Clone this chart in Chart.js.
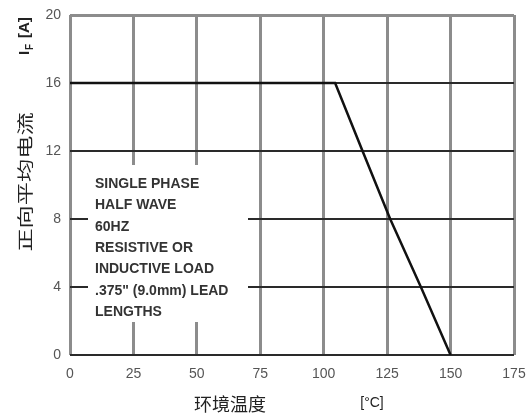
<!DOCTYPE html>
<html>
<head>
<meta charset="utf-8">
<script src="https://cdn.jsdelivr.net/npm/chart.js@4"></script>
<style>
html,body{margin:0;padding:0;background:#fff;}
canvas{display:block;}
</style>
</head>
<body>
<canvas id="c" width="531" height="416"></canvas>
<script>
// Data
const tempC    = [0, 104.5, 115.3, 126.2, 138.3, 150];
const currentA = [16, 16, 12, 8, 4, 0];
const xTickValues = [0, 25, 50, 75, 100, 125, 150, 175];
const yTickValues = [0, 4, 8, 12, 16, 20];
const noteLines = [
  'SINGLE PHASE',
  'HALF WAVE',
  '60HZ',
  'RESISTIVE OR',
  'INDUCTIVE LOAD',
  '.375" (9.0mm) LEAD',
  'LENGTHS'
];
const yTitle = '正向平均电流';
const xTitle = '环境温度';
const xUnit = '[°C]';

const points = tempC.map((t, i) => ({x: t, y: currentA[i]}));

const overlay = {
  id: 'overlay',
  beforeDatasetsDraw(chart) {
    const ctx = chart.ctx, a = chart.chartArea;
    ctx.save();
    // white note box covering grid
    ctx.fillStyle = '#fff';
    ctx.fillRect(a.left + 18, a.top + 150, 160, 157);
    ctx.fillStyle = '#333';
    ctx.font = 'bold 14px "Liberation Sans", Arial, sans-serif';
    ctx.textBaseline = 'middle';
    ctx.textAlign = 'left';
    noteLines.forEach((s, i) => {
      ctx.fillText(s, a.left + 25, a.top + 169 + i * 21.4);
    });
    ctx.restore();
  },
  afterDraw(chart) {
    const ctx = chart.ctx;
    ctx.save();
    ctx.fillStyle = '#222';
    // Y title (rotated, stretched)
    ctx.save();
    ctx.translate(25, 182);
    ctx.rotate(-Math.PI / 2);
    ctx.scale(1.45, 1);
    ctx.font = '16px "Noto Sans CJK SC", sans-serif';
    ctx.textAlign = 'center';
    ctx.textBaseline = 'middle';
    ctx.fillText(yTitle, 0, 0);
    ctx.restore();
    // I_F [A]
    ctx.save();
    ctx.translate(26, 55);
    ctx.rotate(-Math.PI / 2);
    ctx.textBaseline = 'middle';
    ctx.textAlign = 'left';
    ctx.font = 'bold 15px "Liberation Sans", Arial, sans-serif';
    ctx.fillText('I', 0, -1);
    ctx.font = 'bold 10px "Liberation Sans", Arial, sans-serif';
    ctx.fillText('F', 5, 4);
    ctx.font = 'bold 15px "Liberation Sans", Arial, sans-serif';
    ctx.fillText('[A]', 17, -1);
    ctx.restore();
    // X title
    ctx.textAlign = 'center';
    ctx.textBaseline = 'middle';
    ctx.font = '18px "Noto Sans CJK SC", sans-serif';
    ctx.fillText(xTitle, 230, 404);
    ctx.font = '14px "Liberation Sans", Arial, sans-serif';
    ctx.fillText(xUnit, 372, 403);
    ctx.restore();
  }
};

new Chart(document.getElementById('c'), {
  type: 'line',
  data: {
    datasets: [{
      data: points,
      borderColor: '#111',
      borderWidth: 2.5,
      pointRadius: 0,
      tension: 0,
      fill: false
    }]
  },
  options: {
    responsive: false,
    animation: false,
    layout: {padding: {top: 15, right: 17, left: 0, bottom: 0}},
    plugins: {legend: {display: false}, tooltip: {enabled: false}},
    scales: {
      x: {
        type: 'linear',
        min: 0, max: 175,
        afterBuildTicks(s) { s.ticks = xTickValues.map(v => ({value: v})); },
        afterFit(s) { s.height = 61; s.paddingLeft = 0; s.paddingRight = 0; },
        border: {display: false},
        grid: {color: '#8c8c8c', lineWidth: 3, drawTicks: false},
        ticks: {
          padding: 11,
          color: '#555',
          font: {family: '"Liberation Sans", Arial, sans-serif', size: 14},
          maxRotation: 0
        }
      },
      y: {
        type: 'linear',
        min: 0, max: 20,
        afterBuildTicks(s) { s.ticks = yTickValues.map(v => ({value: v})); },
        afterFit(s) { s.width = 70; s.paddingTop = 0; s.paddingBottom = 0; },
        border: {display: false},
        grid: {
          color: c => (c.tick && c.tick.value === 20) ? '#8c8c8c' : '#2a2a2a',
          lineWidth: c => (c.tick && c.tick.value === 20) ? 3 : 2,
          drawTicks: false
        },
        ticks: {
          padding: 9,
          color: '#555',
          font: {family: '"Liberation Sans", Arial, sans-serif', size: 14}
        }
      }
    }
  },
  plugins: [overlay]
});
</script>
</body>
</html>
